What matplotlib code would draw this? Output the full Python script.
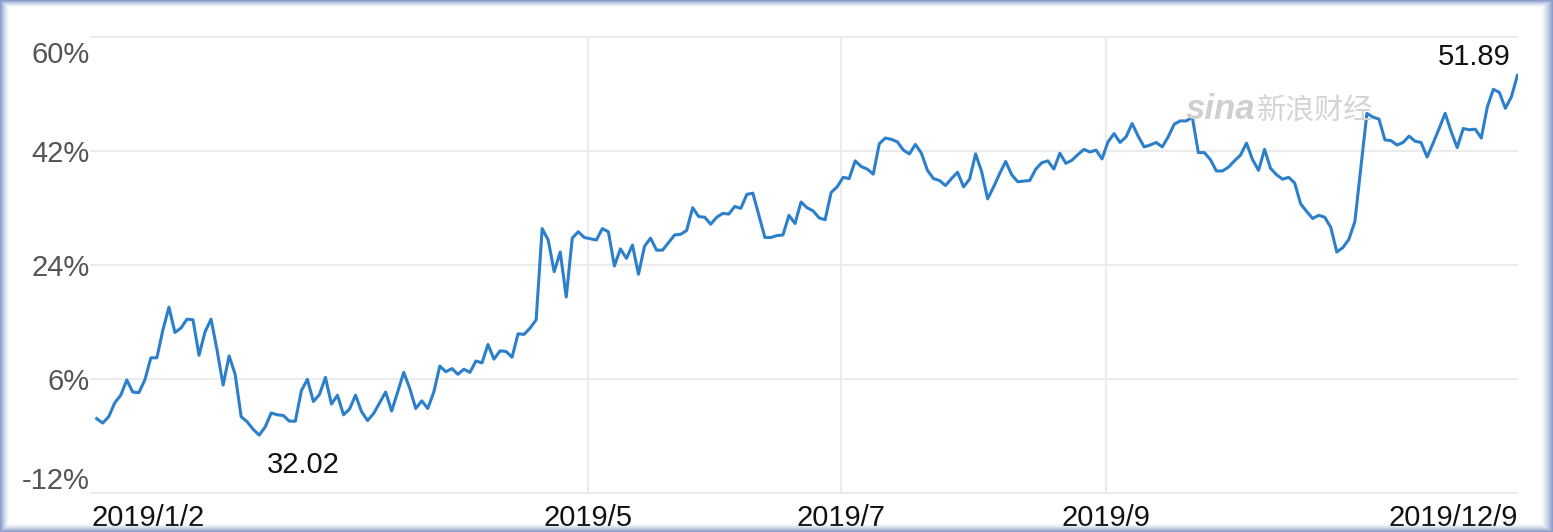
import numpy as np
import matplotlib
matplotlib.use('Agg')
import matplotlib.pyplot as plt
import matplotlib.transforms as mtransforms

# cumulative return (%), one value per trading day
ret = [
    -0.2, -0.9, 0.1, 2.3, 3.5, 5.9, 4.0, 3.9, 5.9, 9.4,
    9.4, 13.8, 17.4, 13.4, 14.1, 15.5, 15.4, 9.8, 13.5, 15.5,
    10.6, 5.1, 9.7, 6.8, 0.1, -0.7, -1.9, -2.8, -1.5, 0.7,
    0.4, 0.3, -0.6, -0.6, 4.2, 6.0, 2.5, 3.6, 6.3, 2.1,
    3.5, 0.4, 1.3, 3.5, 0.9, -0.5, 0.6, 2.3, 4.0, 1.0,
    4.0, 7.1, 4.6, 1.4, 2.6, 1.4, 4.0, 8.1, 7.2, 7.7,
    6.8, 7.6, 7.1, 8.9, 8.6, 11.5, 9.2, 10.5, 10.4, 9.5,
    13.2, 13.1, 14.1, 15.4, 29.8, 28.0, 23.0, 26.1, 19.0, 28.3,
    29.3, 28.4, 28.2, 28.0, 29.8, 29.3, 23.9, 26.6, 25.1, 27.2,
    22.6, 27.0, 28.3, 26.4, 26.4, 27.6, 28.8, 28.9, 29.5, 33.1,
    31.7, 31.6, 30.5, 31.6, 32.2, 32.1, 33.3, 33.0, 35.2, 35.4,
    31.9, 28.4, 28.4, 28.7, 28.8, 31.9, 30.6, 34.0, 33.1, 32.6,
    31.5, 31.2, 35.5, 36.4, 37.9, 37.7, 40.5, 39.6, 39.2, 38.4,
    43.2, 44.1, 43.9, 43.5, 42.2, 41.6, 43.1, 41.7, 39.0, 37.7,
    37.4, 36.6, 37.7, 38.7, 36.4, 37.6, 41.6, 38.8, 34.5, 36.4,
    38.5, 40.4, 38.3, 37.2, 37.3, 37.4, 39.2, 40.2, 40.5, 39.2,
    41.7, 40.1, 40.6, 41.5, 42.3, 41.9, 42.2, 40.8, 43.5, 44.8,
    43.4, 44.3, 46.4, 44.4, 42.7, 43.0, 43.4, 42.7, 44.3, 46.3,
    46.8, 46.8, 47.4, 41.8, 41.8, 40.7, 38.9, 38.9, 39.5, 40.5,
    41.4, 43.3, 40.7, 39.0, 42.3, 39.3, 38.3, 37.6, 37.9, 37.0,
    33.7, 32.5, 31.4, 31.9, 31.6, 30.0, 26.1, 26.8, 28.1, 30.9,
    39.4, 48.0, 47.4, 47.1, 43.8, 43.7, 43.0, 43.4, 44.4, 43.6,
    43.4, 41.1, 43.3, 45.6, 48.0, 45.1, 42.6, 45.6, 45.4, 45.5,
    44.1, 49.0, 51.8, 51.3, 48.8, 50.6, 54.0,
]

ytick_vals = [-12, 6, 24, 42, 60]
ytick_labels = ['-12%', '6%', '24%', '42%', '60%']

xtick_pos = [0, 81.6, 123.6, 167.7, 236]
xtick_labels = ['2019/1/2', '2019/5', '2019/7', '2019/9', '2019/12/9']
month_grid = [81.6, 123.6, 167.7]

low_label = '32.02'
last_label = '51.89'

W, H = 1553, 532
fig = plt.figure(figsize=(W / 100, H / 100), dpi=100)
fig.patch.set_facecolor('white')
plt.rcParams['font.family'] = ['Liberation Sans', 'DejaVu Sans']

px_l, px_r, px_t, px_b = 90, 1518, 31.0, 499.7
ax = fig.add_axes([px_l / W, (H - px_b) / H, (px_r - px_l) / W, (px_b - px_t) / H])

x = np.arange(len(ret))
ax.plot(x, ret, color='#2b7fcb', lw=2.2, zorder=3)

ax.set_xlim(-1.11, 236.1)
ax.set_ylim(-13, 61)
for s in ax.spines.values():
    s.set_visible(False)

grid_c = '#ebebeb'
ax.set_yticks(ytick_vals, labels=ytick_labels)
ax.yaxis.grid(True, color=grid_c, lw=1.5)
# month lines only run between the lowest and highest gridline
ax.vlines(month_grid, ytick_vals[0], ytick_vals[-1], color=grid_c, lw=1.5, zorder=0)
ax.set_axisbelow(True)

ax.tick_params(axis='y', length=0, pad=0, labelsize=21, labelcolor='#555555')
ax.set_xticks(xtick_pos, labels=xtick_labels)
ax.tick_params(axis='x', length=0, pad=3, labelsize=21, labelcolor='#111111')

xl = ax.get_xticklabels()
xl[0].set_ha('left')
xl[0].set_transform(xl[0].get_transform() + mtransforms.ScaledTranslation(-0.05, 0, fig.dpi_scale_trans))
xl[-1].set_ha('right')

yl = ax.get_yticklabels()
yl[0].set_va('bottom')
yl[0].set_transform(yl[0].get_transform() + mtransforms.ScaledTranslation(0, -0.02, fig.dpi_scale_trans))
yl[-1].set_va('top')
yl[-1].set_transform(yl[-1].get_transform() + mtransforms.ScaledTranslation(0, -0.04, fig.dpi_scale_trans))

# labels at the low point and the last point
imin = int(np.argmin(ret))
ax.annotate(low_label, xy=(imin, ret[imin]), xytext=(44, -38), textcoords='offset pixels',
            ha='center', va='baseline', fontsize=21, color='#111111')
ax.annotate(last_label, xy=(x[-1], ret[-1]), xytext=(-7, 10), textcoords='offset pixels',
            ha='right', va='baseline', fontsize=21, color='#111111')

# watermark
fig.text(1186 / W, (H - 119) / H, 'sina', fontsize=25, fontweight='bold', fontstyle='italic',
         color='#cfcfcf', va='baseline')
fig.text(1257 / W, (H - 118) / H, '新浪财经', fontsize=21, color='#d4d4d4', va='baseline',
         family=['Noto Sans CJK SC', 'DejaVu Sans'])

# window frame around the picture
yy, xx = np.mgrid[0:H, 0:W]
a = np.zeros((H, W))
for d, w in [(xx, 9), (yy, 7), (W - 1 - xx, 12), (H - 1 - yy, 8)]:
    a = np.maximum(a, np.clip(1 - d / w, 0, 1) ** 1.4)
frame = np.zeros((H, W, 4))
frame[..., 0] = 0.52
frame[..., 1] = 0.60
frame[..., 2] = 0.79
frame[..., 3] = a * 0.95
fig.figimage(frame, xo=0, yo=0, zorder=10)

fig.savefig('out.png', dpi=100)
